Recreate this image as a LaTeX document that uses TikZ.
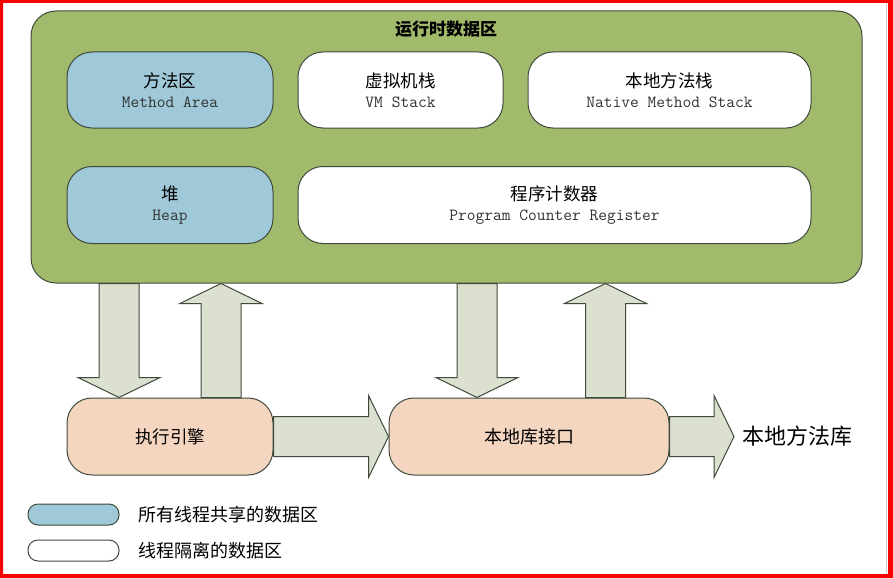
\documentclass[tikz,border=0pt]{standalone}
\usepackage{fontspec}
\usepackage{tikz}
\usetikzlibrary{calc,positioning}
\newfontfamily\cjk{Noto Sans CJK SC}
\definecolor{areagreen}{HTML}{A2BA6B}
\definecolor{sharedblue}{HTML}{9FC8D8}
\definecolor{enginepeach}{HTML}{F4D5C0}
\definecolor{arrowfill}{HTML}{DCE0CE}
\definecolor{edgegray}{HTML}{3E4A3C}
\newcommand{\entext}[1]{{\fontsize{17}{21}\selectfont\ttfamily\color{black!80}#1}}
% fat block arrow from #1 to #2
\newcommand{\fatarrow}[2]{%
  \coordinate (hb) at ($(#2)!20pt!(#1)$);
  \draw[fatarrowline]
    ($(#1)!20pt!90:(#2)$) -- ($(hb)!20pt!90:(#2)$) -- ($(hb)!41pt!90:(#2)$)
    -- (#2) -- ($(hb)!41pt!-90:(#2)$) -- ($(hb)!20pt!-90:(#2)$)
    -- ($(#1)!20pt!-90:(#2)$) -- cycle;}

\begin{document}
\begin{tikzpicture}[x=1pt,y=-1pt,
  area/.style={draw=edgegray,line width=1pt,rounded corners=25pt,inner sep=0pt,
    align=center,font=\fontsize{17.5}{21}\selectfont},
  shared/.style={area,fill=sharedblue},
  private/.style={area,fill=white},
  engine/.style={area,fill=enginepeach},
  fatarrowline/.style={draw=edgegray,line width=1pt,fill=arrowfill,line join=miter},
  pill/.style={draw=edgegray,line width=1pt,rounded corners=10pt,
    minimum width=91pt,minimum height=21pt,inner sep=0pt},
  legendtext/.style={anchor=west,inner sep=0pt,font=\fontsize{18}{20}\selectfont\cjk}]
  \useasboundingbox (0,0) rectangle (893,578);
  \fill[white] (0,0) rectangle (893,578);
  \draw[gray!40,line width=1pt] (886,3) -- (886,574);
  \fill[red,even odd rule] (0,0) rectangle (893,578) (3,3) rectangle (888,574);

  % runtime data area
  \node[area,fill=areagreen,minimum width=831pt,minimum height=272pt] (rtda) at (446.5,147) {};
  \node[font=\fontsize{17}{20}\selectfont\cjk\bfseries] (title) at (446,29) {运行时数据区};

  \node[shared,minimum width=206pt,minimum height=76pt] (method) at (170,90)
    {{\cjk 方法区}\\[-1pt]\entext{Method Area}};
  \node[private,minimum width=205pt,minimum height=76pt] (vmstack) at (400.5,90)
    {{\cjk 虚拟机栈}\\[-1pt]\entext{VM Stack}};
  \node[private,minimum width=283pt,minimum height=76pt] (nstack) at (669.5,90)
    {{\cjk 本地方法栈}\\[-1pt]\entext{Native Method Stack}};
  \node[shared,minimum width=206pt,minimum height=77pt] (heap) at (170,205)
    {{\cjk 堆}\\[-1pt]\entext{Heap}};
  \node[private,minimum width=513pt,minimum height=77pt] (pc) at (554.5,205)
    {{\cjk 程序计数器}\\[-1pt]\entext{Program Counter Register}};

  % engine and native interface
  \node[engine,minimum width=206pt,minimum height=77pt,font=\fontsize{17.5}{20}\selectfont\cjk] (exec) at (170,436.5) {执行引擎};
  \node[engine,minimum width=280pt,minimum height=77pt,font=\fontsize{18}{20}\selectfont\cjk] (jni) at (529,436.5) {本地库接口};
  \node[anchor=west,inner sep=8pt,font=\fontsize{22}{24}\selectfont\cjk] (nlib) at (734,436.5) {本地方法库};

  % connectors
  \coordinate (execin) at ($(exec.north)+(-51,0)$);
  \coordinate (execout) at ($(exec.north)+(51,0)$);
  \coordinate (jniin) at ($(jni.north)+(-52,0)$);
  \coordinate (jniout) at ($(jni.north)+(76.5,0)$);
  \fatarrow{rtda.south -| execin}{execin}
  \fatarrow{execout}{rtda.south -| execout}
  \fatarrow{rtda.south -| jniin}{jniin}
  \fatarrow{jniout}{rtda.south -| jniout}
  \fatarrow{exec.east}{jni.west}
  \fatarrow{jni.east}{nlib.west}

  % legend
  \node[pill,fill=sharedblue] (keyshared) at (73.5,514.5) {};
  \node[pill,fill=white] (keyprivate) at (73.5,550.5) {};
  \node[legendtext] (keysharedtext) at (138,514.5) {所有线程共享的数据区};
  \node[legendtext] (keyprivatetext) at (138,550.5) {线程隔离的数据区};
\end{tikzpicture}
\end{document}
